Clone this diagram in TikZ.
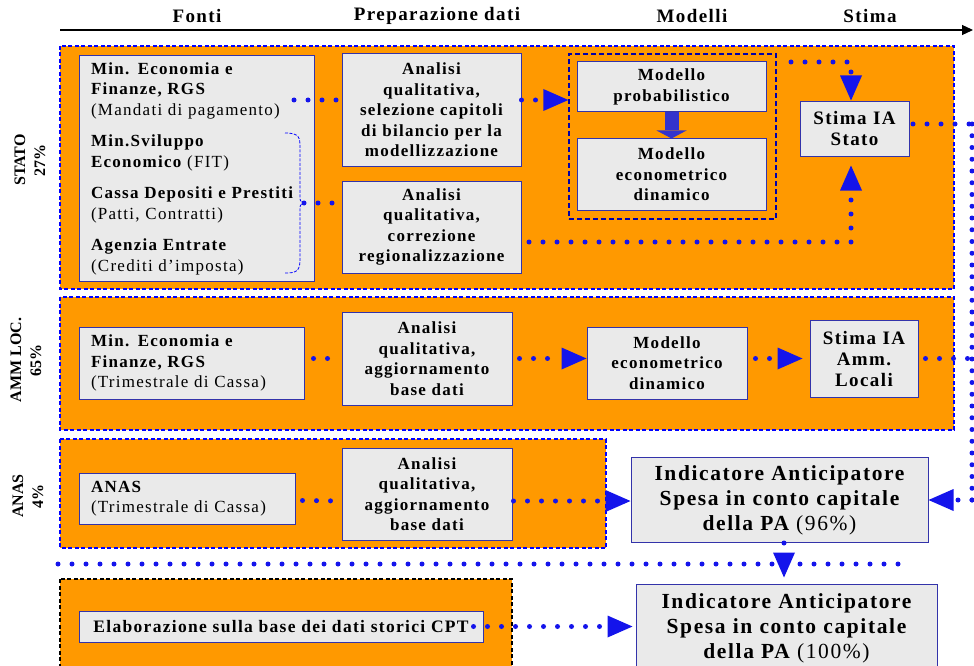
\documentclass[tikz,border=0pt]{standalone}
\usepackage{fontspec}
\setmainfont{Liberation Serif}[LetterSpace=7.5]
\usetikzlibrary{arrows.meta,calc}
\definecolor{bandor}{RGB}{255,153,0}
\definecolor{boxfill}{RGB}{234,234,234}
\definecolor{boxline}{RGB}{51,51,170}
\definecolor{dotblue}{RGB}{20,20,235}
\definecolor{grpline}{RGB}{0,0,170}
\definecolor{blockblue}{RGB}{51,51,204}
\newcommand{\fsz}[2]{\fontsize{#1}{#2}\selectfont}
\begin{document}
\begin{tikzpicture}[x=1pt,y=-1pt,
 band/.style={draw=blue, fill=bandor, line width=1.3pt, dash pattern=on 4pt off 2.5pt},
 bandk/.style={band, draw=black},
 grpbox/.style={draw=grpline, line width=1.3pt, dash pattern=on 5pt off 3pt, inner sep=0pt},
 box/.style={draw=boxline, fill=boxfill, line width=1pt, inner sep=0pt, align=center, font=\fsz{17}{20.5}\bfseries},
 srcbox/.style={box, align=left, inner xsep=12pt},
 bigbox/.style={box, font=\fsz{21.5}{25}\bfseries},
 stbox/.style={box, font=\fsz{19}{21}\bfseries},
 hdr/.style={font=\fsz{19}{20}\bfseries, inner sep=0pt},
 side/.style={font=\fsz{16}{20}\bfseries\addfontfeature{LetterSpace=0}, align=center, rotate=90, inner sep=0pt},
 dotl/.style={draw=dotblue, line width=5pt, line cap=round, dash pattern=on 0pt off 14pt},
 dotarr/.style={dotl, -{Triangle[length=25pt,width=22pt,line width=0pt]}},
 bracel/.style={draw=blue, line width=0.8pt, dash pattern=on 3pt off 1.5pt},
]
\useasboundingbox (0,0) rectangle (974,666);
\clip (0,0) rectangle (974,666);

% header
\coordinate (hs) at (60,30);
\coordinate (he) at (973,30);
\draw[line width=1.2pt, -{Triangle[length=11pt,width=10pt]}] (hs) -- (he);
\node[hdr] (h1) at (197,16) {Fonti};
\node[hdr] (h2) at (437,16) {Preparazione dati};
\node[hdr] (h3) at (692,16) {Modelli};
\node[hdr] (h4) at (870,16) {Stima};

% bands
\draw[band] (60,46) rectangle (954,289);
\draw[band] (60,297) rectangle (954,430);
\draw[band] (60,439) rectangle (606,548);
\draw[bandk] (60,579) rectangle (512,672);

% side labels
\node[side] (sl1) at (30,160) {STATO\\27\%};
\node[side] (sl2) at (26,360) {AMM LOC.\\65\%};
\node[side] (sl3) at (28,496) {ANAS\\4\%};

% STATO
\node[srcbox, text width=211pt, minimum height=225pt] (f1) at (196.5,168.5)
 {Min. Economia e\\ Finanze, RGS\\ {\mdseries (Mandati di pagamento)}\\[11pt]
  Min.Sviluppo\\ Economico {\mdseries (FIT)}\\[11pt]
  Cassa Depositi e Prestiti\\ {\mdseries (Patti, Contratti)}\\[11pt]
  Agenzia Entrate\\ {\mdseries (Crediti d’imposta)}};
\node[box, text width=179pt, minimum height=112pt] (a1) at (431.5,110)
 {Analisi\\ qualitativa,\\ selezione capitoli\\ di bilancio per la\\ modellizzazione};
\node[box, text width=179pt, minimum height=92pt] (a2) at (431.5,227)
 {Analisi\\ qualitativa,\\ correzione\\ regionalizzazione};
\node[grpbox, minimum width=207pt, minimum height=165pt] (grp) at (672.5,136.5) {};
\node[box, text width=189pt, minimum height=50pt] (mp) at (671.5,87)
 {Modello\\ probabilistico};
\node[box, text width=189pt, minimum height=71pt] (me) at (671.5,174.5)
 {Modello\\ econometrico\\ dinamico};
\node[stbox, text width=109pt, minimum height=54pt] (stS) at (854.5,129)
 {Stima IA\\ Stato};

% brace
\draw[bracel] (285,133) .. controls (300,133) and (300,138) .. (300,148) -- (300,196)
  .. controls (300,201) .. (304,203) .. controls (300,205) .. (300,210) -- (300,260)
  .. controls (300,272) and (295,273) .. (285,273);
\coordinate (brtip) at (304,203);

% STATO connectors
\coordinate (c1) at (294,100);
\draw[dotl] (c1) -- (c1 -| a1.west);
\draw[dotl] (brtip) -- (brtip -| a2.west);
\draw[blockblue, line width=14pt, -{Triangle[length=8pt,width=30pt,line width=0pt]}] (mp.south) -- (me.north);
\draw[dotarr] (a1.east |- c1) -- (grp.west |- c1);
\coordinate (cs1) at (791,62);
\coordinate (cs2) at (529,242);
\coordinate (sn) at ($(stS.north)+(-3.5,0)$);
\coordinate (ss) at ($(stS.south)+(-3.5,0)$);
\draw[dotarr, shorten >=1pt] (cs1) -| (sn);
\draw[dotarr, shorten >=9pt] (cs2) -| (ss);
\coordinate (cr1) at (913,124);
\coordinate (vtop) at (972,124);
\coordinate (vbot) at (972,500);
\draw[dotl] (cr1) -- (vtop);
\draw[dotl, dash pattern=on 0pt off 11.75pt] (vtop) -- (vbot);

% AMM LOC
\node[srcbox, text width=201pt, minimum height=72pt] (f2) at (191.5,363)
 {Min. Economia e\\ Finanze, RGS\\ {\mdseries (Trimestrale di Cassa)}};
\node[box, text width=170pt, minimum height=93pt] (a3) at (427,358.5)
 {Analisi\\ qualitativa,\\ aggiornamento\\ base dati};
\node[box, text width=160pt, minimum height=72pt] (me2) at (667,363)
 {Modello\\ econometrico\\ dinamico};
\node[stbox, text width=108pt, minimum height=77pt] (stL) at (864,358.5)
 {Stima IA\\ Amm.\\ Locali};
\draw[dotl] ($(f2.east |- a3.west)+(9,0)$) -- (a3.west);
\draw[dotarr] ($(a3.east)+(7,0)$) -- (me2.west |- a3.east);
\draw[dotarr, shorten >=7pt] ($(me2.east |- stL.west)+(8,0)$) -- (stL.west);
\draw[dotl] ($(stL.east)+(7,0)$) -- (stL.east -| vtop);

% ANAS
\node[srcbox, text width=192pt, minimum height=51pt] (f3) at (187,498.5)
 {ANAS\\ {\mdseries (Trimestrale di Cassa)}};
\node[box, text width=170pt, minimum height=92pt] (a4) at (427,494)
 {Analisi\\ qualitativa,\\ aggiornamento\\ base dati};
\node[bigbox, text width=297pt, minimum height=85pt] (i96) at (779.5,500)
 {Indicatore Anticipatore\\ Spesa in conto capitale\\ della PA {\mdseries (96\%)}};
\draw[dotl] ($(f3.east)+(7,2)$) -- ($(a4.west)+(0,7)$);
\draw[dotarr] ($(a4.east)+(1,7)$) -- (i96.west |- 0,501);
\draw[dotarr] (vbot) -- (i96.east);

% separator
\coordinate (sp1) at (58,564);
\coordinate (sp2) at (910,564);
\draw[dotl] (sp1) -- (sp2);

% bottom
\node[box, minimum width=404pt, minimum height=31pt, font=\fsz{17.5}{20}\bfseries] (elab) at (281,626.5)
 {Elaborazione sulla base dei dati storici CPT};
\node[bigbox, text width=301pt, minimum height=88pt] (i100) at (786.5,628)
 {Indicatore Anticipatore\\ Spesa in conto capitale\\ della PA {\mdseries (100\%)}};
\coordinate (d1) at ($(i96.south)+(4.5,0)$);
\draw[dotarr, shorten >=6pt] (d1) -- (d1 |- i100.north);
\draw[dotarr, shorten >=3pt] ($(elab.east)+(-10,0)$) -- (i100.west |- elab.east);
\end{tikzpicture}
\end{document}
